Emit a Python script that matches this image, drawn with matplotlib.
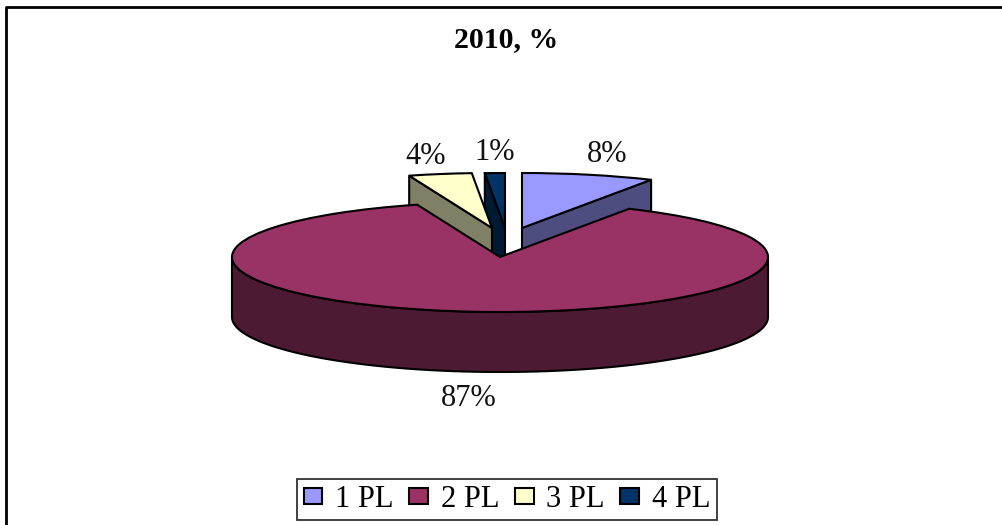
import numpy as np
import matplotlib
matplotlib.use("Agg")
import matplotlib.pyplot as plt
from matplotlib.lines import Line2D
from matplotlib.patches import Polygon

plt.rcParams['font.family'] = ['Liberation Serif', 'DejaVu Serif']

# --- data ---
categories = ['1 PL', '2 PL', '3 PL', '4 PL']
shares = [8, 87, 3.8, 1.2]
title_text = '2010, %'

# --- style / layout ---
top_colors = ['#9999FF', '#993366', '#FFFFCC', '#003366']
side_colors = ['#4D4D80', '#4D1A33', '#808066', '#001A33']
W, H = 1002, 525
RX, RY = 268, 55            # ellipse radii, px
DEPTH = 60                  # pie thickness, px
ORIGIN = (507, 240)         # pie origin, px
OFFSET = [(15, -12), (-7, 17), (-15, -12), (-2, -12)]   # explode, px
LABEL_AT = [(607, 154), (469, 398), (426, 156), (495, 152)]
LW = 1.5

fig = plt.figure(figsize=(W / 100, H / 100), dpi=100, facecolor='white')
ax = fig.add_axes([0, 0, 1, 1])

wedges, _ = ax.pie(shares, colors=top_colors, startangle=90, counterclock=False,
                   radius=1, wedgeprops=dict(edgecolor='black', linewidth=LW))
ax.set_aspect('auto')
ax.set_xlim(-ORIGIN[0] / RX, (W - ORIGIN[0]) / RX)
ax.set_ylim((ORIGIN[1] - H) / RY, ORIGIN[1] / RY)
ax.set_axis_off()

d = DEPTH / RY
centers = [(ox / RX, -oy / RY) for ox, oy in OFFSET]
ends = np.cumsum(shares) / np.sum(shares) * 360   # clockwise from 12 o'clock
starts = np.r_[0, ends[:-1]]


def rim(c, ang):
    a = np.radians(ang)
    return np.c_[c[0] + np.sin(a), c[1] + np.cos(a)]


def cut_face(c, ang, color, z):
    p = rim(c, [ang])[0]
    ax.add_patch(Polygon([c, p, (p[0], p[1] - d), (c[0], c[1] - d)], closed=True,
                         facecolor=color, edgecolor='black', linewidth=LW,
                         joinstyle='round', zorder=z))


# painter's order: 4 PL, then 3 PL and 1 PL, the big slice last
cut_face(centers[3], starts[3], side_colors[3], 1)
wedges[3].set_center(centers[3])
wedges[3].set_zorder(1.5)
cut_face(centers[0], ends[0], side_colors[0], 2)
cut_face(centers[2], starts[2], side_colors[2], 2)
for i in (0, 2):
    wedges[i].set_center(centers[i])
    wedges[i].set_zorder(3)

arc = rim(centers[1], np.linspace(90, 270, 200))
ax.add_patch(Polygon(np.r_[arc, (arc - [0, d])[::-1]], closed=True,
                     facecolor=side_colors[1], edgecolor='black', linewidth=LW,
                     joinstyle='round', zorder=4))
wedges[1].set_center(centers[1])
wedges[1].set_zorder(5)

for i, (lx, ly) in enumerate(LABEL_AT):
    fig.text(lx / W, 1 - ly / H, f'{round(shares[i])}%', ha='center', va='center',
             fontsize=22, color='#111111')

fig.text(506 / W, 1 - 40 / H, title_text, ha='center', va='center',
         fontsize=21.5, fontweight='bold', color='black')

# chart-area border: only the left and top edges fall inside the picture
fig.add_artist(Line2D([5.5 / W, 5.5 / W, 1], [0, 1 - 6.5 / H, 1 - 6.5 / H],
                      color='black', linewidth=2))

handles = [plt.Rectangle((0, 0), 1, 1, facecolor=c, edgecolor='black', linewidth=1.5)
           for c in top_colors]
leg = fig.legend(handles, categories, ncols=4, loc='center',
                 bbox_to_anchor=(507 / W, 1 - 499.5 / H), fontsize=22,
                 frameon=True, fancybox=False, edgecolor='#333333', framealpha=1,
                 handlelength=0.62, handleheight=0.46, handletextpad=0.42,
                 columnspacing=0.5, borderpad=0.21, borderaxespad=0)
leg.get_frame().set_linewidth(1.3)

fig.savefig('out.png', dpi=100, facecolor='white')
